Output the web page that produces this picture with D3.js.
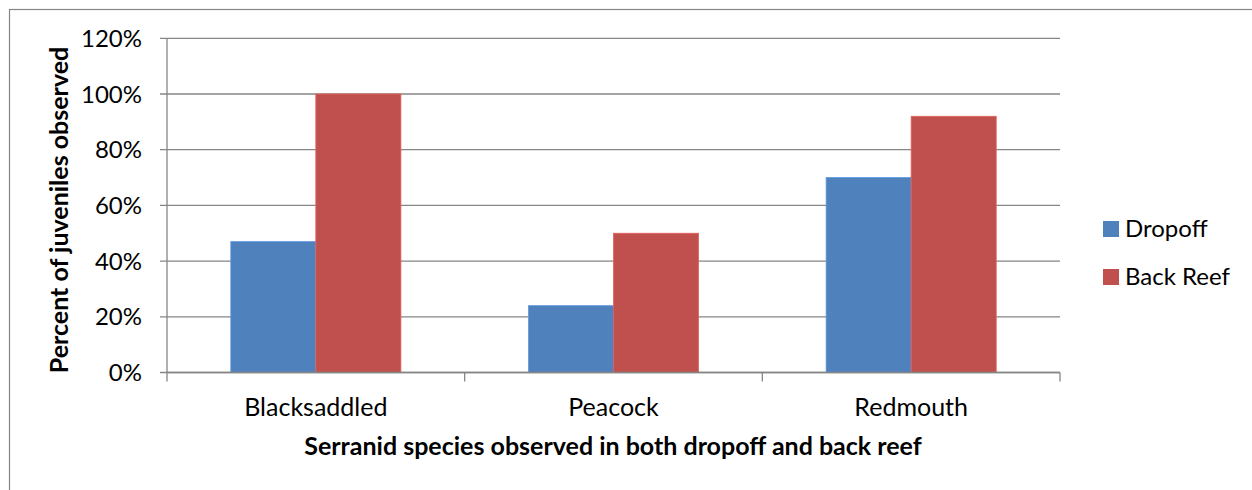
<!DOCTYPE html>
<html>
<head>
<meta charset="utf-8">
<script src="https://cdn.jsdelivr.net/npm/d3@7"></script>
<style>
  html, body { margin: 0; padding: 0; background: #fff; }
  svg { display: block; }
  text { font-family: Lato, "Open Sans", sans-serif; fill: #000; }
</style>
</head>
<body>
<svg id="chart" width="1252" height="490"></svg>
<script>
const categories = ["Blacksaddled", "Peacock", "Redmouth"];
const seriesNames = ["Dropoff", "Back Reef"];
const dropoff = [0.47, 0.24, 0.70];
const backReef = [1.00, 0.50, 0.92];
const yTicks = [0, 0.2, 0.4, 0.6, 0.8, 1.0, 1.2];
const colors = ["#4F81BD", "#C0504D"];
const yTitle = "Percent of juveniles observed";
const xTitle = "Serranid species observed in both dropoff and back reef";

const svg = d3.select("#chart");
const L = 167, R = 1060, T = 38.3, B = 372.5;

// outer border
svg.append("rect").attr("x", 9.5).attr("y", 9.5).attr("width", 1300).attr("height", 600)
  .attr("fill", "none").attr("stroke", "#868686").attr("stroke-width", 1.2);

const x0 = d3.scaleBand().domain(categories).range([L, R]).paddingInner(0).paddingOuter(0);
const x1 = d3.scaleBand().domain(seriesNames).range([0, x0.bandwidth()]).paddingInner(0).paddingOuter(0.75);
const y = d3.scaleLinear().domain([0, 1.2]).range([B, T]);
const color = d3.scaleOrdinal().domain(seriesNames).range(colors);

// gridlines
svg.append("g").selectAll("line").data(yTicks).join("line")
  .attr("x1", L - 7).attr("x2", R)
  .attr("y1", d => y(d)).attr("y2", d => y(d))
  .attr("stroke", "#868686").attr("stroke-width", 1.3);

// y tick labels
svg.append("g").selectAll("text").data(yTicks).join("text")
  .attr("x", 142).attr("y", d => y(d)).attr("dy", "0.36em")
  .attr("text-anchor", "end").attr("font-size", 24)
  .text(d3.format(".0%"));

// bars
const rows = categories.map((c, i) => ({ cat: c, values: [dropoff[i], backReef[i]] }));
const groups = svg.append("g").selectAll("g").data(rows).join("g")
  .attr("transform", d => `translate(${x0(d.cat)},0)`);
groups.selectAll("rect").data(d => d.values.map((v, j) => ({ s: seriesNames[j], v })))
  .join("rect")
  .attr("x", d => x1(d.s)).attr("width", x1.bandwidth())
  .attr("y", d => y(d.v)).attr("height", d => B - y(d.v))
  .attr("fill", d => color(d.s))
  .attr("stroke", d => d3.color(color(d.s)).brighter(0.5)).attr("stroke-width", 0.8);

// y axis line
svg.append("line").attr("x1", L).attr("x2", L).attr("y1", T).attr("y2", B)
  .attr("stroke", "#868686").attr("stroke-width", 1.3);
// x axis line
svg.append("line").attr("x1", L).attr("x2", R).attr("y1", B).attr("y2", B)
  .attr("stroke", "#868686").attr("stroke-width", 1.3);
// x tick marks at category boundaries
const bounds = categories.map(c => x0(c)).concat([R]);
svg.append("g").selectAll("line").data(bounds).join("line")
  .attr("x1", d => d).attr("x2", d => d).attr("y1", B).attr("y2", B + 9)
  .attr("stroke", "#868686").attr("stroke-width", 1.3);

// category labels
svg.append("g").selectAll("text").data(categories).join("text")
  .attr("x", d => x0(d) + x0.bandwidth() / 2).attr("y", 416)
  .attr("text-anchor", "middle").attr("font-size", 25)
  .text(d => d);

// axis titles
svg.append("text").attr("x", (L + R) / 2 - 0.5).attr("y", 455)
  .attr("text-anchor", "middle").attr("font-size", 25).attr("font-weight", "bold")
  .text(xTitle);
svg.append("text").attr("transform", `translate(68,210) rotate(-90)`)
  .attr("text-anchor", "middle").attr("font-size", 25).attr("font-weight", "bold")
  .text(yTitle);

// legend
const leg = svg.append("g").selectAll("g").data(seriesNames).join("g")
  .attr("transform", (d, i) => `translate(1103,${221 + i * 48})`);
leg.append("rect").attr("width", 16).attr("height", 16).attr("fill", d => color(d));
leg.append("text").attr("x", 22).attr("y", 16).attr("font-size", 24).text(d => d);
</script>
</body>
</html>
